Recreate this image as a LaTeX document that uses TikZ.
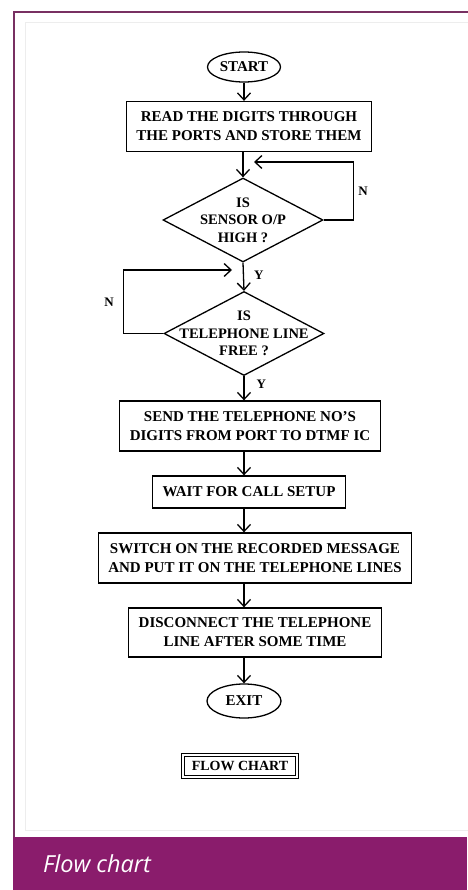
\documentclass[tikz,border=0pt]{standalone}
\usepackage{fontspec}
\setmainfont{Liberation Serif}
\newfontfamily\capfont{Open Sans}
\usetikzlibrary{arrows.meta,positioning,shapes.geometric}
\definecolor{plum}{RGB}{138,28,108}
\definecolor{plumline}{RGB}{120,48,98}
\tikzset{
  proc/.style={draw,line width=1.3pt,inner xsep=10pt,minimum height=50pt,align=center},
  term/.style={draw,ellipse,line width=1.3pt,minimum width=73pt,minimum height=30pt,inner sep=0pt},
  decide/.style={draw,diamond,line width=1.3pt,minimum width=160pt,minimum height=84pt,inner sep=0pt},
  arr/.style={line width=1.3pt,-{Straight Barb[length=7pt,width=13pt]}},
  yn/.style={font=\fontsize{13}{13}\selectfont\bfseries,inner sep=4pt},
}
\begin{document}
\begin{tikzpicture}[x=1pt,y=-1pt,font=\fontsize{15}{19}\selectfont\bfseries]
\useasboundingbox (0,0) rectangle (467,890);
% page frame and caption band
\draw[black!7,line width=0.6pt] (25,22) rectangle (472,830);
\draw[plumline,line width=2pt] (14,890) -- (14,12) -- (480,12);
\fill[plum] (13,837) rectangle (467,890);
\node[anchor=base west,text=white,inner sep=0pt,
  font=\capfont\itshape\fontsize{23.5}{23.5}\selectfont] (cap) at (43,872) {Flow chart};

% steps
\node[term] (start) at (244,67) {START};
\node[proc] (read) at (249,126.5) {READ THE DIGITS THROUGH\\THE PORTS AND STORE THEM};
\node[decide] (sensor) at (243,220) {};
\node[align=center,font=\fontsize{14.5}{17.5}\selectfont\bfseries] (sensortxt) at (sensor) {IS\\SENSOR O/P\\HIGH ?};
\node[decide] (line) at (244,333.5) {};
\node[align=center,font=\fontsize{14.5}{17.5}\selectfont\bfseries] (linetxt) at (line) {IS\\TELEPHONE LINE\\FREE ?};
\node[proc] (send) at (250,426) {SEND THE TELEPHONE NO'S\\DIGITS FROM PORT TO DTMF IC};
\node[proc,minimum height=32pt] (wait) at (249,492) {WAIT FOR CALL SETUP};
\node[proc] (play) at (255,558) {SWITCH ON THE RECORDED MESSAGE\\AND PUT IT ON THE TELEPHONE LINES};
\node[proc,minimum height=49pt] (hang) at (255,632.5) {DISCONNECT THE TELEPHONE\\LINE AFTER SOME TIME};
\node[term,minimum width=74pt,minimum height=34pt] (exit) at (244,701) {EXIT};
\node[draw,double,double distance=2pt,line width=1pt,inner xsep=9pt,inner ysep=6pt,
  font=\fontsize{14}{14}\selectfont\bfseries] (title) at (240,766) {FLOW CHART};

% flow
\coordinate (back1) at (254,162);
\coordinate (back2) at (232,270);
\draw[arr] (start) -- (start |- read.north);
\draw[arr] (sensor.north |- read.south) -- (sensor.north);
\draw[arr] (sensor.east) -- ++(30,0) |- node[yn,pos=0.25,right]{N} (back1);
\draw[arr] (sensor.south) -- node[yn,pos=0.45,right,xshift=6pt]{Y} (line.north);
\draw[arr] (line.west) -- ++(-40,0) |- node[yn,pos=0.25,left,xshift=-5pt]{N} (back2);
\draw[arr] (line.south) -- node[yn,pos=0.35,right,xshift=8pt]{Y} (line.south |- send.north);
\draw[arr] (line.south |- send.south) -- (line.south |- wait.north);
\draw[arr] (line.south |- wait.south) -- (line.south |- play.north);
\draw[arr] (line.south |- play.south) -- (line.south |- hang.north);
\draw[arr] (line.south |- hang.south) -- (exit);
\end{tikzpicture}
\end{document}
